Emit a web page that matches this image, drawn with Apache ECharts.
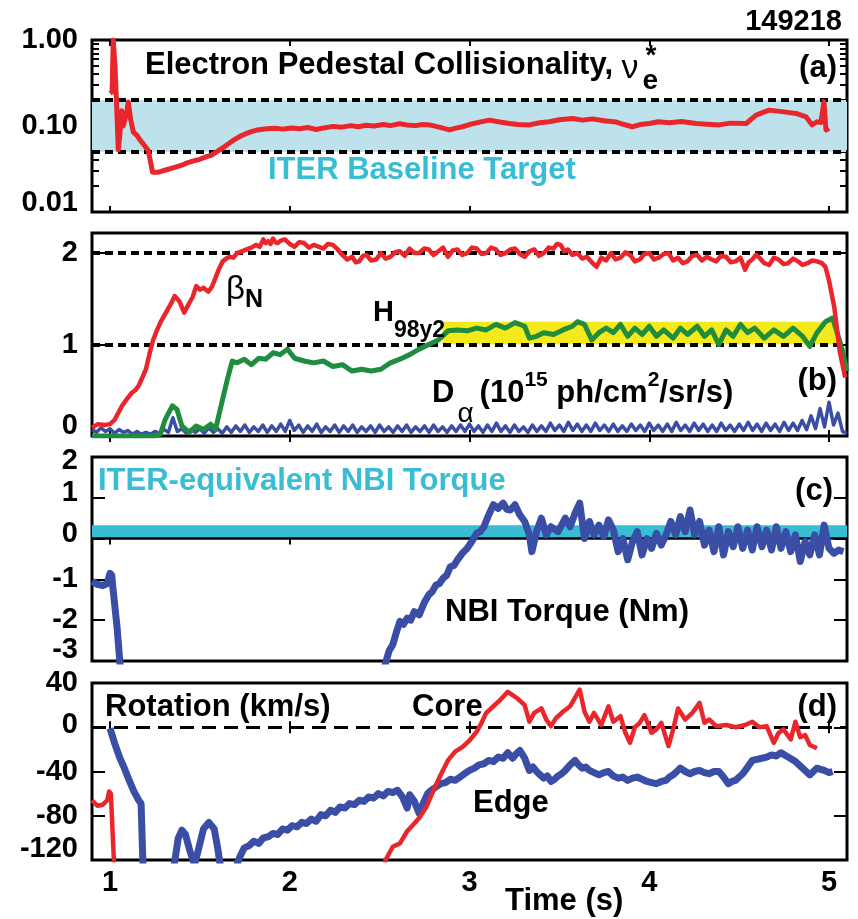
<!DOCTYPE html>
<html><head><meta charset="utf-8">
<script src="https://cdn.jsdelivr.net/npm/echarts@6/dist/echarts.min.js"></script>
<style>html,body{margin:0;padding:0;background:#fff}#c{width:858px;height:919px}</style>
</head><body><div id="c"></div>
<script>
// ---------------- data ----------------
const xTicks = [1, 2, 3, 4, 5];

// (a) electron pedestal collisionality
const nuTicks = [0.01, 0.1, 1];
const nuMinorTicks = [0.02,0.03,0.04,0.05,0.06,0.07,0.08,0.09,0.2,0.3,0.4,0.5,0.6,0.7,0.8,0.9];
const nuBand = [0.05, 0.2];
const nuData = [[1.00,0.24],[1.012,0.25],[1.018,1.0],[1.028,0.5],[1.04,0.12],[1.046,0.053],[1.055,0.08],[1.065,0.15],[1.074,0.10],[1.083,0.098],[1.092,0.14],[1.102,0.19],[1.115,0.12],[1.13,0.085],[1.15,0.078],[1.167,0.069],[1.19,0.06],[1.213,0.052],[1.237,0.029],[1.27,0.029],[1.315,0.031],[1.36,0.033],[1.40,0.035],[1.426,0.037],[1.46,0.039],[1.50,0.041],[1.537,0.044],[1.565,0.046],[1.593,0.050],[1.64,0.058],[1.685,0.068],[1.73,0.077],[1.778,0.085],[1.82,0.090],[1.87,0.093],[1.92,0.094],[1.963,0.092],[2.01,0.095],[2.056,0.093],[2.10,0.096],[2.148,0.091],[2.19,0.095],[2.241,0.099],[2.29,0.097],[2.34,0.101],[2.38,0.098],[2.426,0.102],[2.47,0.100],[2.52,0.104],[2.56,0.101],[2.611,0.106],[2.65,0.103],[2.70,0.101],[2.74,0.104],[2.778,0.103],[2.83,0.097],[2.889,0.090],[2.93,0.095],[2.961,0.098],[3.00,0.104],[3.05,0.110],[3.111,0.117],[3.16,0.112],[3.222,0.107],[3.27,0.104],[3.333,0.103],[3.39,0.109],[3.444,0.112],[3.50,0.118],[3.572,0.122],[3.63,0.117],[3.683,0.121],[3.75,0.115],[3.817,0.111],[3.86,0.104],[3.906,0.098],[3.95,0.104],[4.0,0.107],[4.05,0.112],[4.111,0.109],[4.18,0.113],[4.261,0.107],[4.32,0.105],[4.389,0.103],[4.45,0.108],[4.539,0.107],[4.594,0.134],[4.667,0.153],[4.70,0.150],[4.739,0.147],[4.78,0.143],[4.817,0.140],[4.872,0.128],[4.906,0.103],[4.933,0.112],[4.955,0.11],[4.972,0.192],[4.983,0.090],[5.0,0.094]];

// (b) betaN, H98y2, D-alpha
const bTicks = [0, 1, 2];
const bDashed = [1, 2];
const hBandX = [2.85, 5.05];
const hBandY = [1.0, 1.25];
const betaData = [[0.9,0.09],[0.933,0.13],[0.97,0.12],[1.0,0.13],[1.027,0.18],[1.067,0.33],[1.093,0.40],[1.12,0.47],[1.14,0.50],[1.16,0.55],[1.18,0.64],[1.2,0.73],[1.22,0.90],[1.24,1.05],[1.26,1.15],[1.28,1.24],[1.30,1.31],[1.32,1.38],[1.34,1.45],[1.36,1.53],[1.387,1.47],[1.413,1.35],[1.44,1.45],[1.46,1.52],[1.48,1.64],[1.50,1.60],[1.52,1.62],[1.547,1.58],[1.567,1.63],[1.587,1.73],[1.607,1.83],[1.627,1.91],[1.647,1.94],[1.667,1.96],[1.687,1.95],[1.707,2.0],[1.733,2.02],[1.76,2.04],[1.787,2.06],[1.813,2.09],[1.833,2.07],[1.853,2.15],[1.867,2.11],[1.88,2.13],[1.893,2.10],[1.907,2.16],[1.92,2.12],[1.933,2.11],[1.953,2.14],[1.973,2.15],[2.0,2.10],[2.027,2.07],[2.053,2.12],[2.08,2.11],[2.107,2.06],[2.133,2.09],[2.16,2.07],[2.187,2.05],[2.213,2.10],[2.24,2.09],[2.267,2.04],[2.293,1.98],[2.32,1.93],[2.347,1.96],[2.367,1.90],[2.387,1.91],[2.407,1.97],[2.427,1.98],[2.453,1.92],[2.48,1.93],[2.507,2.0],[2.533,1.94],[2.56,1.96],[2.587,2.01],[2.613,2.02],[2.64,1.97],[2.667,2.05],[2.693,2.0],[2.72,2.0],[2.747,2.05],[2.773,2.04],[2.80,1.98],[2.827,2.02],[2.853,2.06],[2.88,1.96],[2.907,2.03],[2.933,2.04],[2.96,1.98],[2.987,2.0],[3.013,2.06],[3.04,2.05],[3.067,1.99],[3.093,2.0],[3.12,2.06],[3.147,2.04],[3.173,1.98],[3.2,2.0],[3.227,2.04],[3.253,2.05],[3.28,1.99],[3.307,1.96],[3.333,2.02],[3.36,2.04],[3.387,1.97],[3.413,2.0],[3.44,2.06],[3.467,2.05],[3.487,2.1],[3.507,2.09],[3.527,2.02],[3.547,2.04],[3.573,1.98],[3.6,2.0],[3.627,1.94],[3.653,1.96],[3.68,1.90],[3.707,1.85],[3.733,1.95],[3.76,1.92],[3.787,2.0],[3.813,1.93],[3.84,1.95],[3.867,2.01],[3.893,1.98],[3.92,1.91],[3.947,1.93],[3.973,1.99],[4.0,2.0],[4.027,1.93],[4.053,1.95],[4.08,1.99],[4.107,2.0],[4.133,1.92],[4.16,1.95],[4.187,1.89],[4.213,1.91],[4.24,1.97],[4.267,1.98],[4.293,1.92],[4.32,1.96],[4.347,1.93],[4.373,1.91],[4.40,1.97],[4.427,1.96],[4.453,1.90],[4.48,1.91],[4.507,1.95],[4.533,1.82],[4.553,1.90],[4.573,1.93],[4.593,1.98],[4.613,1.95],[4.64,1.89],[4.667,1.87],[4.693,1.95],[4.72,1.93],[4.747,1.88],[4.773,1.89],[4.80,1.94],[4.827,1.91],[4.853,1.87],[4.88,1.89],[4.907,1.92],[4.933,1.91],[4.96,1.89],[4.98,1.85],[5.0,1.70],[5.03,1.40],[5.06,0.92],[5.09,0.64]];
const h98Data = [[0.9,0.0],[1.1,0.0],[1.25,0.0],[1.28,0.02],[1.307,0.18],[1.347,0.33],[1.373,0.29],[1.40,0.11],[1.44,0.04],[1.48,0.11],[1.52,0.07],[1.56,0.13],[1.587,0.07],[1.613,0.29],[1.653,0.62],[1.68,0.82],[1.707,0.80],[1.747,0.84],[1.787,0.78],[1.827,0.85],[1.867,0.84],[1.907,0.91],[1.947,0.89],[1.987,0.95],[2.027,0.85],[2.08,0.82],[2.133,0.80],[2.187,0.82],[2.24,0.76],[2.293,0.78],[2.347,0.71],[2.40,0.73],[2.453,0.71],[2.507,0.73],[2.56,0.80],[2.613,0.84],[2.667,0.89],[2.72,0.95],[2.773,1.0],[2.827,1.05],[2.88,1.15],[2.933,1.16],[2.987,1.15],[3.04,1.18],[3.093,1.16],[3.147,1.22],[3.2,1.18],[3.253,1.24],[3.307,1.20],[3.333,1.07],[3.373,1.09],[3.413,1.13],[3.467,1.11],[3.52,1.16],[3.573,1.20],[3.60,1.25],[3.64,1.22],[3.68,1.05],[3.72,1.13],[3.76,1.18],[3.80,1.13],[3.84,1.22],[3.88,1.09],[3.92,1.18],[3.96,1.11],[4.0,1.20],[4.04,1.09],[4.08,1.16],[4.133,1.07],[4.173,1.18],[4.213,1.11],[4.267,1.20],[4.307,1.09],[4.347,1.16],[4.387,1.0],[4.427,1.16],[4.467,1.09],[4.507,1.22],[4.547,1.13],[4.587,1.18],[4.64,1.07],[4.693,1.16],[4.747,1.09],[4.80,1.18],[4.853,1.09],[4.893,0.98],[4.933,1.13],[4.98,1.25],[5.02,1.29],[5.05,1.1],[5.07,0.97],[5.1,0.71]];
const daStart = 0.9, daStep = 0.025;
const daValues = [
0.07,0.04,0.09,0.05,0.08,0.03,0.07,0.04,0.06,0.02,0.05,0.02,0.04,0.02,0.05,0.03,0.07,0.04,0.20,0.05,
0.08,0.03,0.07,0.04,0.08,0.03,0.09,0.04,0.08,0.03,0.10,0.04,0.11,0.05,0.12,0.04,0.10,0.05,0.12,0.04,
0.11,0.05,0.13,0.05,0.17,0.06,0.12,0.04,0.11,0.05,0.13,0.04,0.10,0.05,0.12,0.04,0.11,0.05,0.12,0.04,
0.10,0.05,0.11,0.04,0.12,0.05,0.10,0.04,0.11,0.05,0.12,0.04,0.10,0.05,0.11,0.04,0.12,0.05,0.10,0.04,
0.11,0.05,0.12,0.05,0.13,0.05,0.11,0.04,0.12,0.05,0.14,0.05,0.11,0.04,0.12,0.05,0.10,0.04,0.12,0.05,
0.11,0.05,0.14,0.06,0.12,0.05,0.15,0.06,0.13,0.05,0.12,0.05,0.14,0.06,0.12,0.05,0.13,0.05,0.11,0.05,
0.13,0.06,0.12,0.05,0.14,0.06,0.12,0.05,0.13,0.05,0.15,0.06,0.12,0.05,0.14,0.06,0.13,0.05,0.12,0.05,
0.14,0.06,0.12,0.05,0.13,0.06,0.15,0.06,0.13,0.05,0.14,0.06,0.13,0.05,0.15,0.06,0.14,0.06,0.17,0.07,
0.22,0.08,0.30,0.10,0.37,0.12,0.25,0.05,0.03];

// (c) NBI torque
const cTicks = [-3, -2, -1, 0, 1, 2];
const torqueBand = [0, 0.33];
const torqueData = [[0.9,-1.05],[0.93,-1.12],[0.96,-1.15],[0.985,-1.1],[1.0,-0.85],[1.01,-0.9],[1.015,-1.15],[1.04,-2.2],[1.06,-3.3],[2.52,-3.3],[2.533,-3.05],[2.553,-2.75],[2.573,-2.6],[2.593,-2.3],[2.613,-2.03],[2.633,-2.1],[2.653,-1.95],[2.673,-2.0],[2.693,-1.79],[2.72,-1.87],[2.747,-1.58],[2.773,-1.38],[2.793,-1.3],[2.813,-1.14],[2.833,-1.1],[2.853,-0.97],[2.873,-0.9],[2.893,-0.69],[2.913,-0.66],[2.933,-0.52],[2.96,-0.36],[2.987,-0.24],[3.013,-0.07],[3.04,0.13],[3.06,0.17],[3.08,0.29],[3.107,0.58],[3.133,0.83],[3.16,0.74],[3.187,0.87],[3.207,0.72],[3.227,0.70],[3.253,0.83],[3.28,0.58],[3.307,0.42],[3.333,0.09],[3.347,-0.32],[3.373,0.17],[3.4,0.5],[3.427,0.09],[3.453,0.29],[3.493,0.17],[3.533,0.5],[3.56,0.29],[3.587,0.62],[3.613,0.87],[3.64,0.0],[3.667,0.42],[3.693,0.09],[3.72,0.33],[3.747,0.05],[3.773,0.46],[3.8,0.21],[3.827,-0.32],[3.853,0.0],[3.88,-0.52],[3.907,-0.07],[3.933,0.17],[3.96,-0.4],[3.987,0.0],[4.013,-0.24],[4.04,0.13],[4.067,-0.16],[4.093,0.09],[4.12,0.42],[4.147,0.09],[4.173,0.54],[4.2,0.17],[4.227,0.7],[4.253,0.09],[4.28,0.42],[4.307,-0.16],[4.333,0.21],[4.36,-0.32],[4.387,0.29],[4.413,-0.4],[4.44,0.17],[4.467,-0.2],[4.493,0.29],[4.52,-0.24],[4.547,0.21],[4.573,-0.28],[4.6,0.29],[4.627,-0.2],[4.653,0.21],[4.68,-0.28],[4.707,0.29],[4.733,-0.24],[4.76,0.17],[4.787,-0.32],[4.813,0.09],[4.84,-0.56],[4.867,-0.07],[4.893,-0.4],[4.92,0.09],[4.947,-0.4],[4.973,0.33],[5.0,-0.24],[5.027,-0.36],[5.053,-0.28],[5.08,-0.32]];

// (d) rotation
const dTicks = [-120, -80, -40, 0, 40];
const coreData = [[0.9,-66],[0.93,-71],[0.96,-70],[0.985,-66],[0.995,-58],[1.005,-60],[1.025,-132],[2.52,-132],[2.533,-120],[2.573,-108],[2.613,-105],[2.653,-94],[2.693,-87],[2.72,-82],[2.76,-72],[2.8,-57],[2.84,-43],[2.88,-30],[2.92,-22],[2.96,-18],[3.0,-12],[3.04,-4],[3.067,4],[3.093,13],[3.133,19],[3.173,25],[3.213,32],[3.24,29],[3.267,26],[3.307,20],[3.333,5],[3.36,13],[3.4,17],[3.427,7],[3.453,1],[3.48,8],[3.52,14],[3.56,19],[3.613,34],[3.64,14],[3.667,5],[3.693,13],[3.733,2],[3.773,19],[3.8,5],[3.84,10],[3.867,-5],[3.893,-14],[3.92,0],[3.947,4],[3.973,11],[4.013,-5],[4.04,-2],[4.067,4],[4.107,-17],[4.133,-2],[4.16,17],[4.2,7],[4.24,13],[4.28,22],[4.307,4],[4.333,7],[4.373,1],[4.427,2],[4.48,0],[4.533,2],[4.573,5],[4.613,0],[4.653,1],[4.693,-14],[4.72,-5],[4.747,-2],[4.787,-11],[4.813,5],[4.84,-9],[4.867,-7],[4.893,-16],[4.933,-19]];
const edgeData = [[1.0,-1],[1.027,-15],[1.053,-27],[1.08,-37],[1.107,-48],[1.133,-58],[1.16,-66],[1.173,-69],[1.185,-132],[1.35,-132],[1.38,-100],[1.40,-93],[1.42,-97],[1.445,-112],[1.47,-124],[1.49,-112],[1.52,-92],[1.55,-86],[1.58,-92],[1.60,-110],[1.62,-132],[1.69,-132],[1.72,-118],[1.747,-109],[1.775,-107],[1.8,-103],[1.827,-105],[1.853,-100],[1.88,-99],[1.907,-96],[1.933,-97],[1.96,-92],[1.987,-93],[2.013,-89],[2.04,-90],[2.067,-86],[2.093,-87],[2.12,-83],[2.147,-85],[2.173,-79],[2.2,-80],[2.227,-75],[2.253,-77],[2.28,-72],[2.307,-73],[2.333,-69],[2.36,-70],[2.387,-66],[2.413,-67],[2.44,-63],[2.467,-64],[2.493,-60],[2.52,-62],[2.547,-58],[2.573,-59],[2.6,-57],[2.627,-63],[2.653,-73],[2.667,-61],[2.693,-67],[2.72,-78],[2.747,-67],[2.767,-60],[2.787,-57],[2.813,-54],[2.84,-51],[2.867,-50],[2.893,-47],[2.92,-48],[2.947,-45],[2.973,-42],[3.0,-39],[3.027,-37],[3.053,-34],[3.08,-33],[3.107,-30],[3.133,-31],[3.16,-27],[3.187,-28],[3.213,-23],[3.24,-28],[3.26,-24],[3.28,-21],[3.307,-28],[3.333,-39],[3.353,-36],[3.373,-40],[3.393,-43],[3.413,-46],[3.433,-44],[3.453,-49],[3.473,-47],[3.493,-44],[3.513,-42],[3.533,-39],[3.56,-34],[3.587,-30],[3.607,-34],[3.627,-37],[3.647,-36],[3.667,-39],[3.693,-41],[3.72,-43],[3.747,-41],[3.773,-40],[3.8,-44],[3.827,-46],[3.853,-45],[3.88,-48],[3.907,-46],[3.933,-45],[3.96,-47],[3.987,-49],[4.013,-50],[4.04,-51],[4.067,-49],[4.093,-48],[4.113,-45],[4.133,-43],[4.153,-40],[4.173,-37],[4.2,-40],[4.227,-42],[4.253,-40],[4.28,-39],[4.307,-41],[4.333,-42],[4.36,-40],[4.387,-40],[4.413,-45],[4.44,-51],[4.46,-49],[4.48,-48],[4.5,-45],[4.52,-42],[4.547,-36],[4.573,-30],[4.6,-29],[4.627,-28],[4.653,-27],[4.68,-25],[4.707,-26],[4.733,-23],[4.753,-25],[4.773,-27],[4.793,-29],[4.813,-31],[4.833,-34],[4.853,-37],[4.873,-40],[4.893,-43],[4.913,-40],[4.933,-37],[4.953,-38],[4.973,-39],[5.0,-41],[5.02,-40]];

// ---------------- style ----------------
const FONT = '"Liberation Sans", Arial, Helvetica, sans-serif';
const RED = '#e8262c', BLUE = '#3a4ea5', GREEN = '#1f8c3e', CYAN = '#38bdd5',
      LIGHTBLUE = '#bde2eb', YELLOW = '#f4ea1b', BLACK = '#000';
const lbl = {fontFamily: FONT, fontWeight: 'bold', fontSize: 29, color: BLACK};

const grids = [
  {left: 92, top: 40, width: 755, height: 172},
  {left: 92, top: 233, width: 755, height: 203},
  {left: 92, top: 457, width: 755, height: 204},
  {left: 92, top: 683, width: 755, height: 177}
].map(g => Object.assign(g, {show: true, borderColor: BLACK, borderWidth: 3, backgroundColor: 'transparent', containLabel: false}));

function xAx(grid, pos, labels) {
  return {
    type: 'value', gridIndex: grid, min: 0.9, max: 5.1, position: pos,
    axisLine: {show: false}, splitLine: {show: false},
    axisTick: {show: true, inside: true, length: 6, customValues: xTicks, lineStyle: {color: BLACK, width: 2}},
    axisLabel: labels ? Object.assign({show: true, customValues: xTicks, margin: 8}, lbl) : {show: false}
  };
}
const richDefs = {
  n: Object.assign({}, lbl),
  u4: Object.assign({padding: [0, 0, 4, 0]}, lbl),
  u10: Object.assign({padding: [0, 0, 10, 0]}, lbl),
  u18: Object.assign({padding: [0, 0, 18, 0]}, lbl),
  u20: Object.assign({padding: [0, 0, 20, 0]}, lbl),
  u22: Object.assign({padding: [0, 0, 22, 0]}, lbl),
  d8: Object.assign({padding: [8, 0, 0, 0]}, lbl)
};
function yAx(o) {
  const ax = {
    type: o.type || 'value', gridIndex: o.grid, min: o.min, max: o.max, position: o.pos,
    axisLine: {show: false}, splitLine: {show: false},
    axisTick: {show: true, inside: true, length: o.len || 13, customValues: o.ticks, lineStyle: {color: BLACK, width: 2}},
    axisLabel: {show: false}
  };
  if (o.type === 'log') ax.logBase = 10;
  if (o.labels) {
    const fmt = o.fmt || (v => String(v));
    ax.axisLabel = Object.assign({
      show: true, customValues: o.ticks, margin: 14, showMinLabel: true, showMaxLabel: true,
      formatter: v => { const s = fmt(v); const k = (o.shift || {})[s]; return '{' + (k || 'n') + '|' + s + '}'; },
      rich: richDefs
    }, lbl);
  }
  return ax;
}
const nuFmt = v => (v >= 0.999 ? '1.00' : (Math.round(v * 100) / 100).toFixed(2));

const xAxis = [];
for (let i = 0; i < 4; i++) { xAxis.push(xAx(i, 'bottom', i === 3)); xAxis.push(xAx(i, 'top', false)); }
const yAxis = [
  yAx({grid: 0, type: 'log', min: 0.01, max: 1, pos: 'left', ticks: nuTicks, labels: true, fmt: nuFmt, shift: {'0.01': 'u18'}}),
  yAx({grid: 0, type: 'log', min: 0.01, max: 1, pos: 'right', ticks: nuTicks}),
  yAx({grid: 0, type: 'log', min: 0.01, max: 1, pos: 'left', ticks: nuMinorTicks, len: 7}),
  yAx({grid: 0, type: 'log', min: 0.01, max: 1, pos: 'right', ticks: nuMinorTicks, len: 7}),
  yAx({grid: 1, min: 0, max: 2.22, pos: 'left', ticks: bTicks, labels: true, shift: {'0': 'u20'}}),
  yAx({grid: 1, min: 0, max: 2.22, pos: 'right', ticks: bTicks}),
  yAx({grid: 2, min: -3, max: 2, pos: 'left', ticks: cTicks, labels: true, shift: {'2': 'd8', '1': 'u10', '0': 'u10', '-3': 'u22'}}),
  yAx({grid: 2, min: -3, max: 2, pos: 'right', ticks: cTicks}),
  yAx({grid: 3, min: -120, max: 40, pos: 'left', ticks: dTicks, labels: true, shift: {'-120': 'u22', '0': 'u4'}}),
  yAx({grid: 3, min: -120, max: 40, pos: 'right', ticks: dTicks})
];

function line(xi, yi, data, color, width, z) {
  return {type: 'line', xAxisIndex: xi, yAxisIndex: yi, data: data, showSymbol: false, symbol: 'none',
          silent: true, z: z || 5, lineStyle: {color: color, width: width, join: 'round'}};
}
function bandSeries(xi, yi, area, color, z) {
  return {type: 'line', xAxisIndex: xi, yAxisIndex: yi, data: [], z: z || 1, silent: true,
          markArea: {silent: true, animation: false, itemStyle: {color: color}, data: [area]}};
}
function hLines(xi, yi, values, style, z) {
  return {type: 'line', xAxisIndex: xi, yAxisIndex: yi, data: [], z: z || 2, silent: true,
          markLine: {silent: true, animation: false, symbol: 'none', label: {show: false},
                     lineStyle: style, data: values.map(v => ({yAxis: v}))}};
}

const daData = daValues.map((v, i) => [+(daStart + i * daStep).toFixed(3), v]);

const series = [
  bandSeries(0, 0, [{yAxis: nuBand[0]}, {yAxis: nuBand[1]}], LIGHTBLUE, 1),
  hLines(0, 0, nuBand, {color: BLACK, width: 4, type: [8, 5]}, 2),
  line(0, 0, nuData, RED, 5, 5),

  bandSeries(2, 4, [{xAxis: hBandX[0], yAxis: hBandY[0]}, {xAxis: hBandX[1], yAxis: hBandY[1]}], YELLOW, 1),
  hLines(2, 4, bDashed, {color: BLACK, width: 4, type: [8, 5]}, 2),
  line(2, 4, daData, BLUE, 3.5, 4),
  line(2, 4, h98Data, GREEN, 5, 5),
  line(2, 4, betaData, RED, 4.5, 6),

  bandSeries(4, 6, [{yAxis: torqueBand[0]}, {yAxis: torqueBand[1]}], CYAN, 1),
  hLines(4, 6, [0], {color: BLACK, width: 2.5, type: 'solid'}, 2),
  line(4, 6, torqueData, BLUE, 7, 5),

  hLines(6, 8, [0], {color: BLACK, width: 3, type: [14, 8]}, 2),
  line(6, 8, edgeData, BLUE, 7, 5),
  line(6, 8, coreData, RED, 4.5, 6)
];

// ---------------- text annotations ----------------
const mctx = document.createElement('canvas').getContext('2d');
function tw(font, s) { mctx.font = font; return mctx.measureText(s).width; }
function seq(x, y, parts, color) {
  const els = [];
  for (const p of parts) {
    const font = (p.w || 'bold') + ' ' + p.s + 'px ' + FONT;
    const px = x + (p.dx || 0);
    els.push({type: 'text', x: px, y: y + (p.dy || 0), z: 100, silent: true,
              style: {text: p.t, font: font, fill: p.c || color || BLACK, align: 'left', verticalAlign: 'middle'}});
    if (!p.stack) x = px + tw(font, p.t);
  }
  return els;
}
function rtext(x, y, t, s) {
  return {type: 'text', x: x, y: y, z: 100, silent: true,
          style: {text: t, font: 'bold ' + (s || 31) + 'px ' + FONT, fill: BLACK, align: 'right', verticalAlign: 'middle'}};
}
const texts = [].concat(
  [rtext(842, 22, '149218', 29)],
  seq(145, 65, [{t: 'Electron Pedestal Collisionality, ', s: 31}, {t: 'ν', s: 34, w: 'normal', dy: 4},
                {t: 'e', s: 28, dy: 16, dx: 4, stack: true}, {t: '*', s: 28, dy: -9, dx: 7}]),
  [rtext(837, 68, '(a)')],
  seq(268, 170, [{t: 'ITER Baseline Target', s: 31, c: CYAN}]),
  seq(226, 290, [{t: 'β', s: 33, w: 'normal'}, {t: 'N', s: 25, dy: 10}]),
  seq(373, 313, [{t: 'H', s: 29}, {t: '98y2', s: 23, dy: 18}]),
  seq(432, 393, [{t: 'D', s: 31}, {t: 'α', s: 28, w: 'normal', dy: 21, dx: 3}, {t: '(10', s: 31, dx: 6},
                 {t: '15', s: 21, dy: -13}, {t: ' ph/cm', s: 31}, {t: '2', s: 21, dy: -13}, {t: '/sr/s)', s: 31}]),
  [rtext(837, 381, '(b)')],
  seq(98, 481, [{t: 'ITER-equivalent NBI Torque', s: 31, c: CYAN}]),
  [rtext(833, 491, '(c)')],
  seq(445, 612, [{t: 'NBI Torque (Nm)', s: 31}]),
  seq(105, 707, [{t: 'Rotation (km/s)', s: 31}]),
  seq(412, 707, [{t: 'Core', s: 31}]),
  [rtext(837, 707, '(d)')],
  seq(473, 803, [{t: 'Edge', s: 31}]),
  seq(505, 901, [{t: 'Time (s)', s: 31}])
);

const chart = echarts.init(document.getElementById('c'), null, {renderer: 'canvas'});
chart.setOption({
  animation: false,
  backgroundColor: '#fff',
  grid: grids,
  xAxis: xAxis,
  yAxis: yAxis,
  series: series,
  graphic: {elements: texts}
});
</script>
</body></html>
